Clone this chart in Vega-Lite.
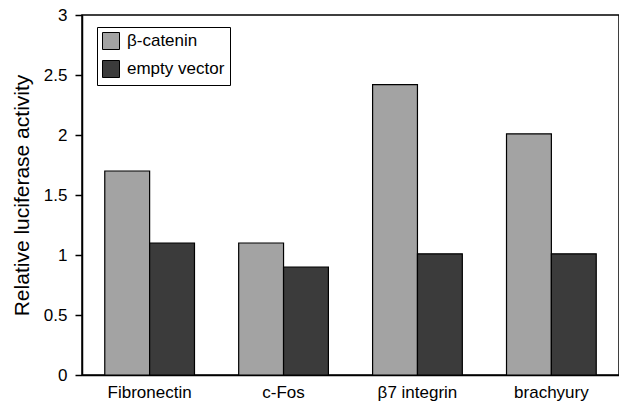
{
  "$schema": "https://vega.github.io/schema/vega-lite/v6.json",
  "width": 537,
  "height": 360,
  "autosize": {"type": "none"},
  "padding": {"left": 82, "top": 15, "right": 0, "bottom": 30},
  "background": "white",
  "config": {
    "font": "Liberation Sans",
    "view": {"stroke": "black", "strokeWidth": 1.5},
    "axis": {"domainColor": "black", "tickColor": "black", "labelColor": "black", "titleColor": "black", "grid": false}
  },
  "data": {
    "values": [
      {"gene": "Fibronectin", "construct": "β-catenin", "value": 1.7},
      {"gene": "Fibronectin", "construct": "empty vector", "value": 1.1},
      {"gene": "c-Fos", "construct": "β-catenin", "value": 1.1},
      {"gene": "c-Fos", "construct": "empty vector", "value": 0.9},
      {"gene": "β7 integrin", "construct": "β-catenin", "value": 2.42},
      {"gene": "β7 integrin", "construct": "empty vector", "value": 1.01},
      {"gene": "brachyury", "construct": "β-catenin", "value": 2.01},
      {"gene": "brachyury", "construct": "empty vector", "value": 1.01}
    ]
  },
  "mark": {"type": "bar", "stroke": "black", "strokeWidth": 1.2},
  "encoding": {
    "x": {
      "field": "gene", "type": "nominal", "sort": null,
      "scale": {"paddingInner": 0.33, "paddingOuter": 0.17},
      "axis": {"title": null, "labelAngle": 0, "ticks": false, "labelFontSize": 17, "labelPadding": 9, "domainWidth": 1.5}
    },
    "xOffset": {"field": "construct", "type": "nominal", "sort": ["β-catenin", "empty vector"], "scale": {"paddingInner": 0, "paddingOuter": 0}},
    "y": {
      "field": "value", "type": "quantitative",
      "scale": {"domain": [0, 3], "nice": false},
      "axis": {"title": "Relative luciferase activity", "values": [0, 0.5, 1, 1.5, 2, 2.5, 3], "format": "~g", "labelFontSize": 17, "labelPadding": 8, "tickSize": 7, "tickWidth": 1.5, "domainWidth": 1.5, "titleFontSize": 21, "titleFontWeight": "normal", "titlePadding": 11}
    },
    "fill": {
      "field": "construct", "type": "nominal", "sort": ["β-catenin", "empty vector"],
      "scale": {"range": ["#a3a3a3", "#3b3b3b"]},
      "legend": {"title": null, "orient": "none", "legendX": 15, "legendY": 12, "strokeColor": "black", "padding": 5, "symbolType": "square", "symbolSize": 289, "symbolStrokeColor": "black", "symbolStrokeWidth": 1, "labelFontSize": 17, "rowPadding": 6, "labelOffset": 7, "fillColor": "white"}
    }
  }
}
